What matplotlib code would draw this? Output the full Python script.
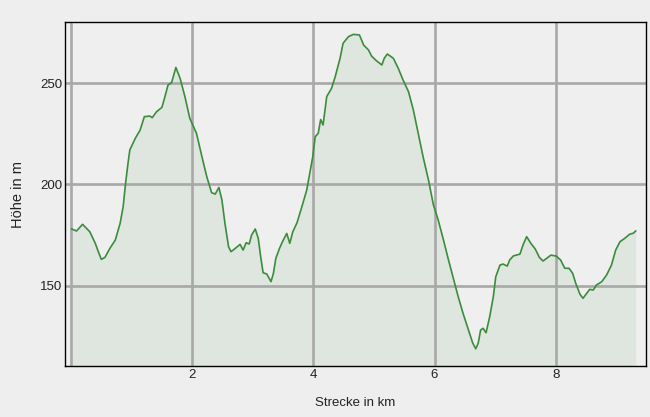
import matplotlib
matplotlib.use("Agg")
import matplotlib.pyplot as plt

plt.rcParams['font.family'] = ['Liberation Sans', 'DejaVu Sans']

distance_km = [0.01, 0.09, 0.19, 0.31, 0.40, 0.45, 0.50, 0.56, 0.64, 0.73, 0.81, 0.86,
               0.90, 0.94, 0.97, 1.06, 1.14, 1.21, 1.30, 1.34, 1.41, 1.50, 1.55, 1.60,
               1.66, 1.73, 1.80, 1.88, 1.96, 2.07, 2.16, 2.24, 2.32, 2.38, 2.44, 2.49,
               2.54, 2.60, 2.64, 2.71, 2.79, 2.84, 2.89, 2.94, 2.98, 3.04, 3.09, 3.13,
               3.17, 3.23, 3.30, 3.34, 3.38, 3.44, 3.49, 3.56, 3.61, 3.66, 3.73, 3.81,
               3.89, 3.94, 3.99, 4.03, 4.08, 4.12, 4.16, 4.22, 4.30, 4.36, 4.44, 4.49,
               4.58, 4.66, 4.76, 4.83, 4.91, 4.96, 5.04, 5.13, 5.17, 5.22, 5.32, 5.40,
               5.48, 5.57, 5.65, 5.73, 5.81, 5.90, 5.98, 6.06, 6.14, 6.23, 6.31, 6.39,
               6.47, 6.56, 6.63, 6.68, 6.72, 6.76, 6.80, 6.85, 6.91, 6.97, 7.01, 7.08,
               7.13, 7.20, 7.24, 7.30, 7.35, 7.41, 7.46, 7.52, 7.59, 7.66, 7.73, 7.79,
               7.85, 7.92, 8.01, 8.08, 8.15, 8.22, 8.28, 8.33, 8.40, 8.45, 8.51, 8.56,
               8.62, 8.67, 8.76, 8.84, 8.92, 8.99, 9.06, 9.14, 9.22, 9.28, 9.32]
elevation_m = [178.0, 177.0, 180.3, 176.6, 170.9, 166.8, 163.0, 164.0, 168.4, 172.5, 180.8, 189.0,
               200.5, 210.4, 217.0, 222.7, 226.8, 233.4, 233.7, 232.9, 235.8, 238.0, 243.3, 249.0,
               250.2, 257.7, 252.3, 243.2, 232.6, 225.2, 213.7, 203.8, 195.9, 195.2, 198.5, 192.3,
               180.8, 169.2, 166.8, 168.4, 170.4, 167.6, 171.2, 170.6, 175.0, 178.0, 173.4, 164.3,
               156.4, 155.8, 152.0, 156.1, 163.5, 168.4, 171.7, 175.8, 170.9, 176.6, 181.1, 189.0,
               197.2, 205.4, 213.7, 223.5, 225.2, 232.0, 229.3, 243.3, 247.4, 253.1, 262.2, 269.6,
               272.9, 274.0, 273.7, 268.7, 266.3, 263.3, 261.0, 258.9, 262.2, 264.3, 262.2, 257.3,
               251.5, 245.7, 236.7, 225.2, 213.7, 202.1, 190.0, 182.4, 173.4, 162.7, 153.6, 144.6,
               136.4, 128.1, 121.7, 118.9, 121.6, 128.1, 129.0, 126.8, 134.7, 144.6, 154.4, 160.2,
               160.7, 159.7, 162.7, 164.7, 165.1, 165.6, 170.1, 174.2, 170.9, 168.2, 164.0, 162.2,
               163.5, 165.1, 164.6, 162.7, 158.6, 158.6, 156.1, 151.2, 145.8, 143.8, 146.2, 148.2,
               147.9, 150.3, 152.0, 155.3, 160.2, 167.6, 171.7, 173.4, 175.4, 175.9, 177.0]

x_ticks = [2, 4, 6, 8]
x_grid = [0, 2, 4, 6, 8]
y_ticks = [150, 200, 250]
x_label = "Strecke in km"
y_label = "Höhe in m"

fig = plt.figure(figsize=(6.5, 4.17), dpi=100, facecolor='#eeeeee')
ax = fig.add_axes([65/650, 1-366/417, (646-65)/650, (366-22)/417])
ax.set_facecolor('#efefef')

ax.set_xlim(-0.1, 9.49)
ax.set_ylim(110.4, 280.1)

ymin = ax.get_ylim()[0]
ax.fill_between(distance_km, elevation_m, ymin, color='#dfe5df', zorder=1, linewidth=0)
ax.plot(distance_km, elevation_m, color='#3b8c3b', linewidth=1.2, zorder=3)

for xv in x_grid:
    ax.axvline(xv, color='#a8a8a8', linewidth=1.9, zorder=2)
for yv in y_ticks:
    ax.axhline(yv, color='#a8a8a8', linewidth=1.9, zorder=2)

ax.set_xticks(x_ticks)
ax.set_xticklabels([str(v) for v in x_ticks])
ax.set_yticks(y_ticks)
ax.set_yticklabels([str(v) for v in y_ticks])
ax.tick_params(length=0, labelsize=9.5, colors='#222222', pad=2)

for s in ax.spines.values():
    s.set_color('black')
    s.set_linewidth(1.0)

fig.text((65+646)/2/650, 1-403/417, x_label, ha='center', va='center', fontsize=9.5, color='#222222')
fig.text(18/650, 1-195/417, y_label, ha='center', va='center', rotation=90, fontsize=10.5, color='#222222')

fig.savefig('out.png', dpi=100, facecolor=fig.get_facecolor())
